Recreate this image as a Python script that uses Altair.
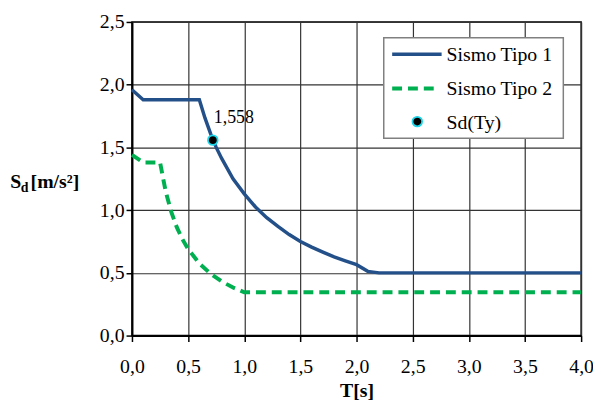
import altair as alt
import pandas as pd

# Sismo Tipo 1
t1 = [0.0, 0.1, 0.6, 0.65, 0.7, 0.75, 0.8, 0.9, 1.0, 1.1, 1.2, 1.3, 1.4, 1.5, 1.6, 1.7, 1.8, 1.9, 2.0, 2.1, 2.2, 4.0]
s1 = [1.96, 1.88, 1.88, 1.735, 1.61, 1.50, 1.41, 1.25, 1.13, 1.025, 0.94, 0.87, 0.805, 0.75, 0.705, 0.665, 0.627, 0.595, 0.565, 0.512, 0.50, 0.50]
# Sismo Tipo 2
t2 = [0.0, 0.1, 0.25, 0.3, 0.35, 0.4, 0.45, 0.5, 0.6, 0.7, 0.8, 0.9, 1.0, 1.1, 4.0]
s2 = [1.44, 1.38, 1.38, 1.15, 0.985, 0.862, 0.767, 0.69, 0.575, 0.493, 0.431, 0.383, 0.345, 0.345, 0.345]
# Sd(Ty)
ty = [0.72]
sdy = [1.558]
sdy_label = ["1,558"]

x_ticks = [0, 0.5, 1, 1.5, 2, 2.5, 3, 3.5, 4]
y_ticks = [0, 0.5, 1, 1.5, 2, 2.5]

df1 = pd.DataFrame({"T": t1, "S": s1})
df2 = pd.DataFrame({"T": t2, "S": s2})
dfp = pd.DataFrame({"T": ty, "S": sdy, "lab": sdy_label})
one = pd.DataFrame({"a": [0]})

FONT = "Liberation Serif"
lblexpr = "replace(format(datum.value, '.1f'), '.', ',')"

xs = alt.X("T:Q", scale=alt.Scale(domain=[0, 4], nice=False),
           axis=alt.Axis(values=x_ticks, labelExpr=lblexpr, title="T[s]",
                         titleFont=FONT, titleFontSize=20, titleFontWeight="bold",
                         titleColor="black", titlePadding=5))
ys = alt.Y("S:Q", scale=alt.Scale(domain=[0, 2.5], nice=False),
           axis=alt.Axis(values=y_ticks, labelExpr=lblexpr, title=None))

line1 = alt.Chart(df1).mark_line(color="#24508A", strokeWidth=3.5).encode(x=xs, y=ys)
line2 = alt.Chart(df2).mark_line(color="#00B050", strokeWidth=4, strokeDash=[10, 6]).encode(x=xs, y=ys)
pt = alt.Chart(dfp).mark_point(filled=False, fill="black", fillOpacity=1, stroke="#1ED6EA",
                               strokeWidth=1.8, size=95, opacity=1).encode(x=xs, y=ys)
ptlab = alt.Chart(dfp).mark_text(align="left", baseline="alphabetic", dx=1, dy=-17,
                                 font=FONT, fontSize=18, color="black").encode(x=xs, y=ys, text="lab:N")

# y-axis title S_d[m/s²]
yt_S = alt.Chart(one).mark_text(align="left", baseline="alphabetic", font=FONT, fontSize=20,
                                fontWeight="bold", color="black").encode(
    x=alt.value(-123), y=alt.value(168), text=alt.value("S"))
yt_d = alt.Chart(one).mark_text(align="left", baseline="alphabetic", font=FONT, fontSize=14,
                                fontWeight="bold", color="black").encode(
    x=alt.value(-112.5), y=alt.value(172), text=alt.value("d"))
yt_u = alt.Chart(one).mark_text(align="left", baseline="alphabetic", font=FONT, fontSize=20,
                                fontWeight="bold", color="black").encode(
    x=alt.value(-102.5), y=alt.value(168), text=alt.value("[m/s²]"))

# legend
leg_box = alt.Chart(one).mark_rect(fill="white", stroke="#808080", strokeWidth=1.5).encode(
    x=alt.value(254.5), x2=alt.value(436), y=alt.value(16), y2=alt.value(117.5))
leg_l1 = alt.Chart(one).mark_rule(color="#24508A", strokeWidth=3.5).encode(
    x=alt.value(263), x2=alt.value(313), y=alt.value(32.7))
leg_l2 = alt.Chart(one).mark_rule(color="#00B050", strokeWidth=4, strokeDash=[10, 6]).encode(
    x=alt.value(263), x2=alt.value(310), y=alt.value(67.3))
leg_p = alt.Chart(one).mark_point(filled=False, fill="black", fillOpacity=1, stroke="#1ED6EA",
                                  strokeWidth=1.8, size=95, opacity=1).encode(
    x=alt.value(288.4), y=alt.value(100.7))
leg_names = ["Sismo Tipo 1", "Sismo Tipo 2", "Sd(Ty)"]
leg_y = [32.7, 67.3, 100.7]
leg_txt = [alt.Chart(one).mark_text(align="left", baseline="middle", font=FONT, fontSize=20,
                                    color="black").encode(
    x=alt.value(318), y=alt.value(yy + 1), text=alt.value(nm)) for nm, yy in zip(leg_names, leg_y)]

chart = alt.layer(line2, line1, pt, ptlab, yt_S, yt_d, yt_u, leg_box, leg_l1, leg_l2, leg_p,
                  *leg_txt).properties(
    width=454, height=317,
    autosize=alt.AutoSizeParams(type="none"),
    padding={"left": 125.3, "top": 12, "right": 12, "bottom": 63},
).configure_view(stroke="black", strokeWidth=1.5).configure_axis(
    labelFont=FONT, labelFontSize=20, labelColor="black", labelFlush=False,
    grid=True, gridColor="#333333", gridWidth=1.2,
    domainColor="black", domainWidth=2,
    tickColor="black", tickSize=6, tickWidth=1.5,
).configure_axisX(labelPadding=15).configure_axisY(labelPadding=2)

chart.save("out.html", embed_options={"renderer": "svg", "actions": False})
